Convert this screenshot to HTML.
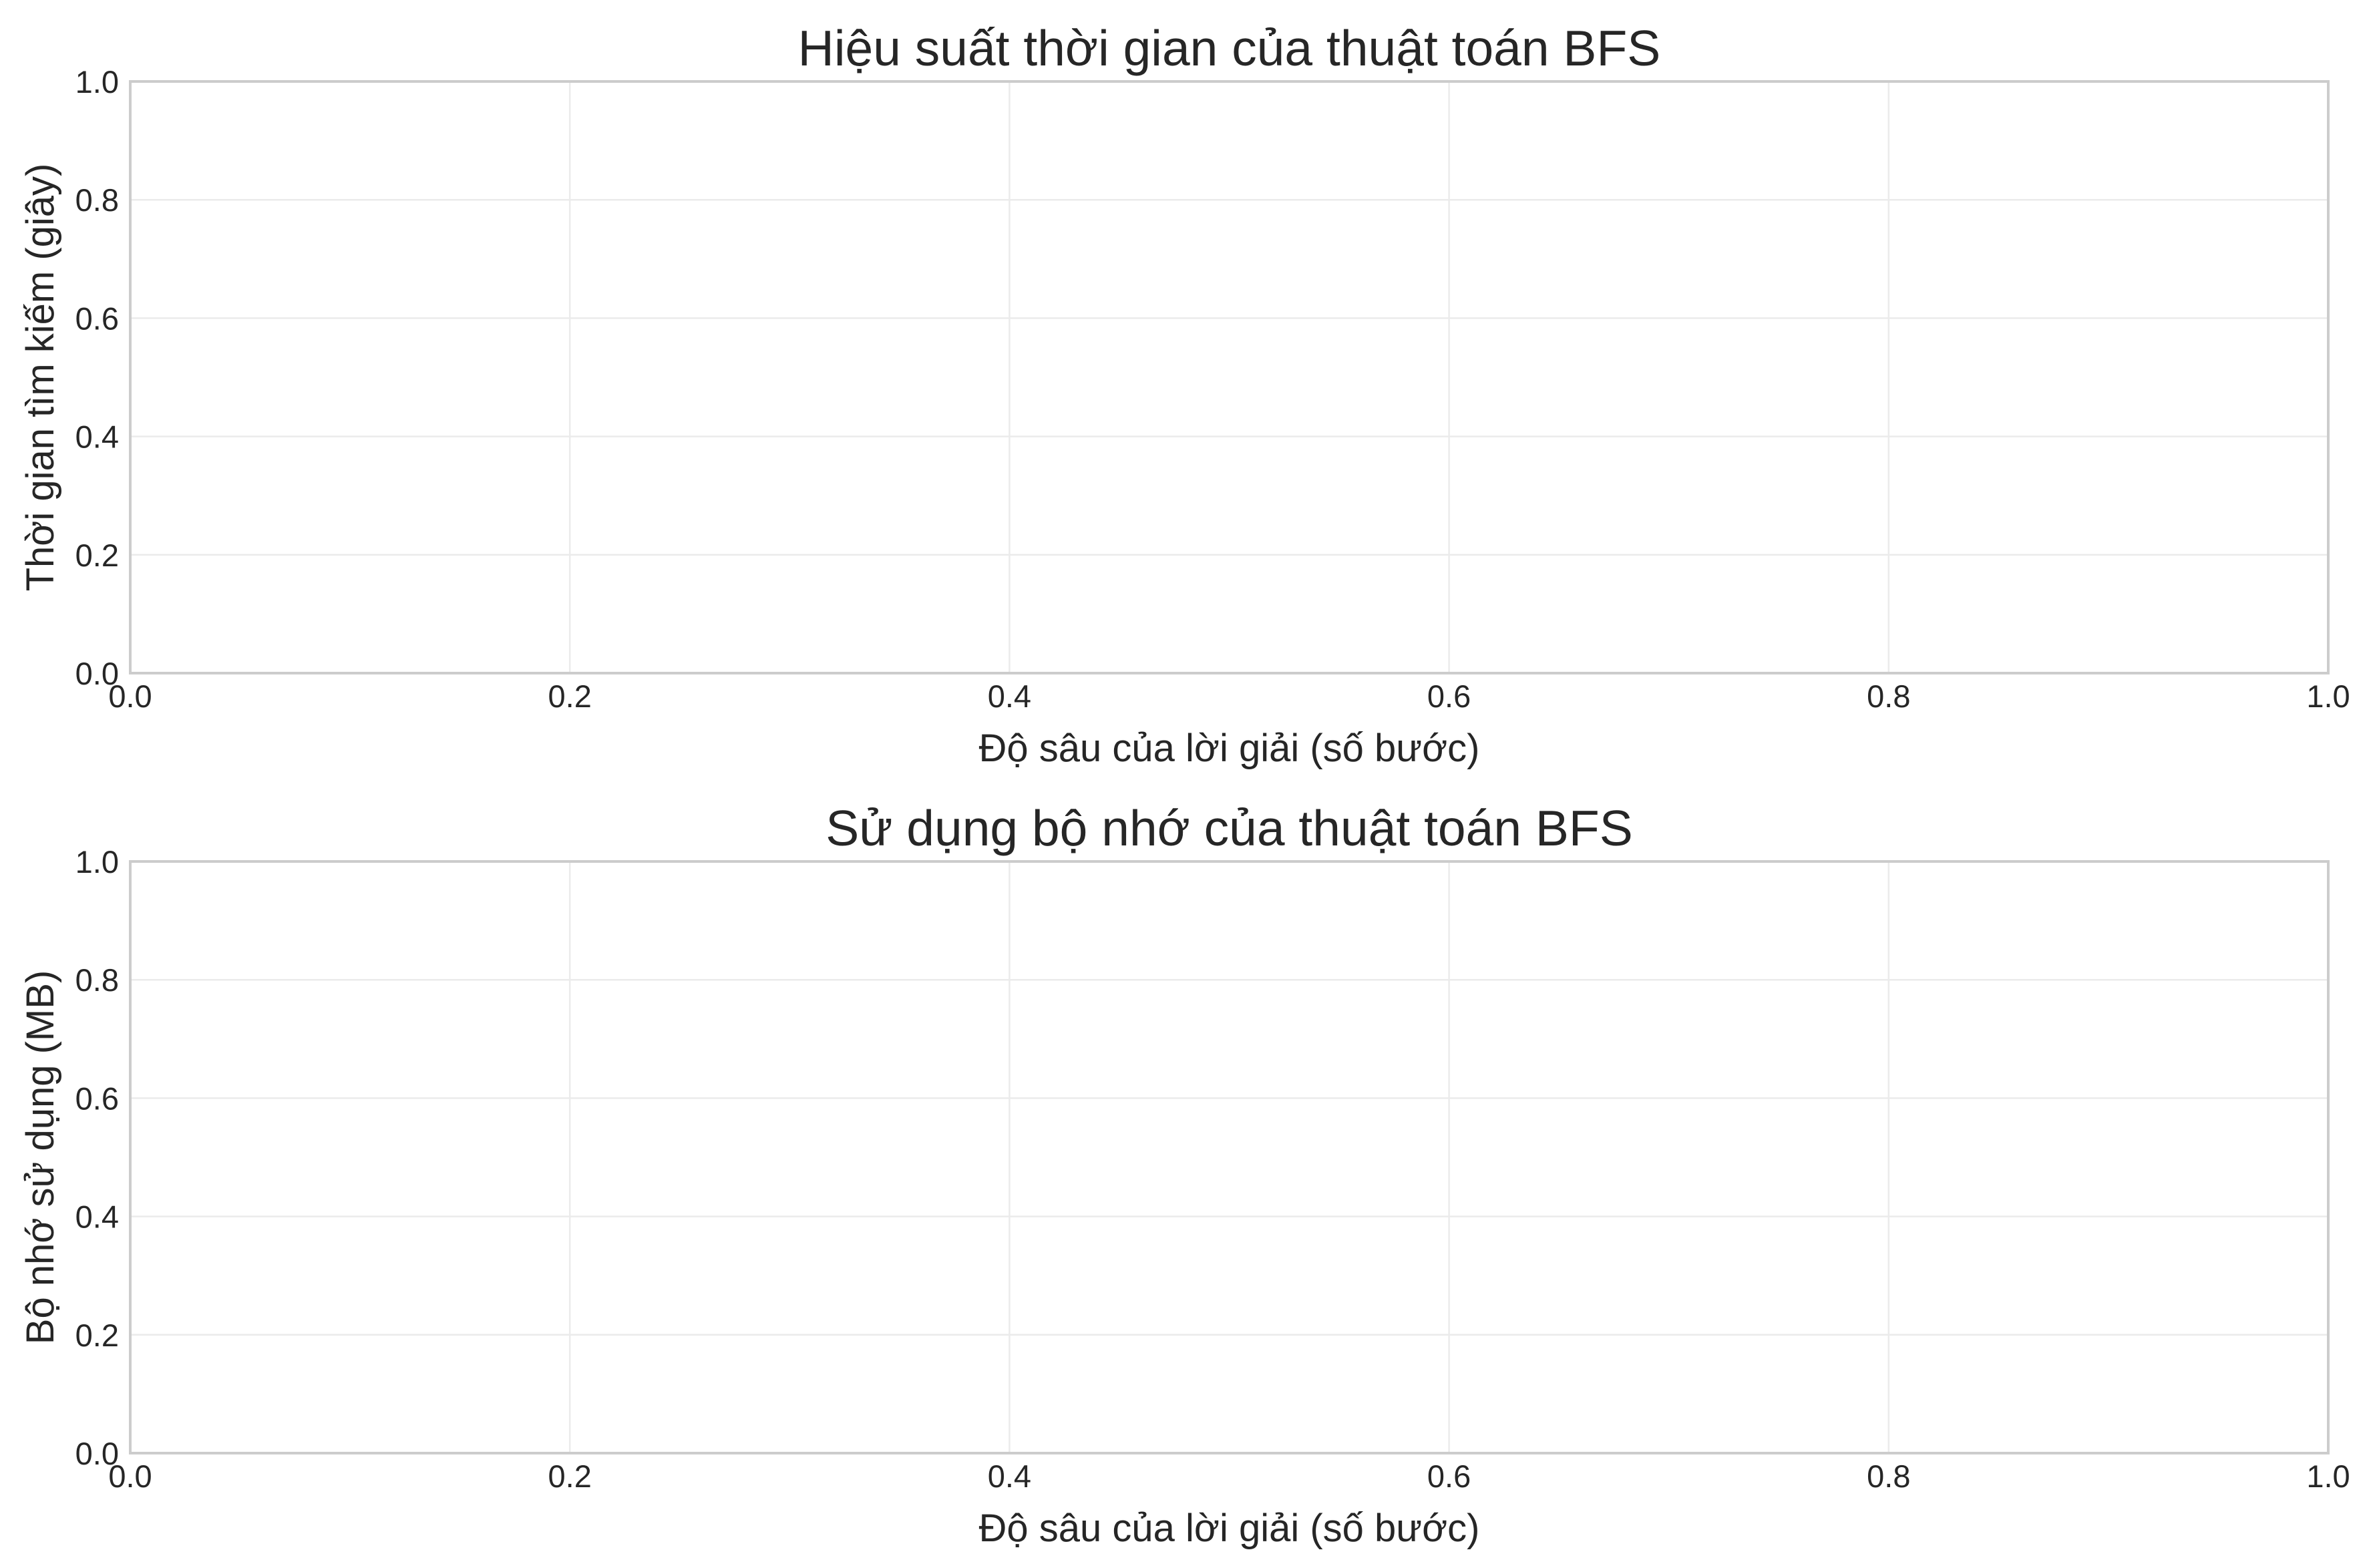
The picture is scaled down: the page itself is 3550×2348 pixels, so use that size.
<!DOCTYPE html>
<html><head><meta charset="utf-8"><style>
html,body{margin:0;padding:0;background:#fff;}
svg{display:block;}
text{font-family:"Liberation Sans",Arial,sans-serif;fill:#262626;}
</style></head><body>
<svg id="chart" width="3550" height="2348" viewBox="0 0 3550 2348" xmlns="http://www.w3.org/2000/svg"></svg>
<script>
const xTicks = [0.0, 0.2, 0.4, 0.6, 0.8, 1.0];
const yTicks = [0.0, 0.2, 0.4, 0.6, 0.8, 1.0];
const timeDepths = [];
const timeValues = [];
const memoryDepths = [];
const memoryValues = [];
const panels = [
  {key:'time', title:'Hiệu suất thời gian của thuật toán BFS', ylabel:'Thời gian tìm kiếm (giây)', top:122, bottom:1008, xs:timeDepths, ys:timeValues},
  {key:'memory', title:'Sử dụng bộ nhớ của thuật toán BFS', ylabel:'Bộ nhớ sử dụng (MB)', top:1290, bottom:2176, xs:memoryDepths, ys:memoryValues}
];
const L = 195, R = 3486;
const NS = 'http://www.w3.org/2000/svg';
const svg = document.getElementById('chart');
function mk(tag, attrs, parent){
  const e = document.createElementNS(NS, tag);
  for (const k in attrs) e.setAttribute(k, attrs[k]);
  (parent||svg).appendChild(e);
  return e;
}
panels.forEach(p => {
  const g = mk('g', {});
  
  
  const xs = v => L + (v - 0) / (1 - 0) * (R - L);
  const ys = v => p.bottom - (v - 0) / (1 - 0) * (p.bottom - p.top);
  xTicks.forEach(t => {
    const ln = mk('line', {x1:xs(t), x2:xs(t), y1:p.top, y2:p.bottom, stroke:'#ebebeb', 'stroke-width':2.5}, g);
    
    
    const tx = mk('text', {x:xs(t), y:p.bottom + 51, 'font-size':47, 'text-anchor':'middle'}, g);
    tx.textContent = t.toFixed(1);
    
    
  });
  yTicks.forEach(t => {
    const ln = mk('line', {x1:L, x2:R, y1:ys(t), y2:ys(t), stroke:'#ebebeb', 'stroke-width':2.5}, g);
    
    
    const tx = mk('text', {x:178, y:ys(t) + 17, 'font-size':47, 'text-anchor':'end'}, g);
    tx.textContent = t.toFixed(1);
    
    
  });
  const fr = mk('rect', {x:L, y:p.top, width:R-L, height:p.bottom-p.top, fill:'none', stroke:'#cccccc', 'stroke-width':4}, g);
  
  
  if (p.xs.length) {
    const pl = mk('polyline', {points:p.xs.map((x,i)=>xs(x)+','+ys(p.ys[i])).join(' '), fill:'none', stroke:'#1f77b4', 'stroke-width':5}, g);
    
    
  }
  const ti = mk('text', {x:(L+R)/2, y:p.top - 24, 'font-size':75, 'text-anchor':'middle'}, g);
  ti.textContent = p.title;
  
  
  const xl = mk('text', {x:(L+R)/2, y:p.bottom + 132, 'font-size':58, 'text-anchor':'middle'}, g);
  xl.textContent = 'Độ sâu của lời giải (số bước)';
  
  
  const cy = (p.top + p.bottom) / 2;
  const yl = mk('text', {x:0, y:0, 'font-size':58, 'text-anchor':'middle', transform:'translate(80,'+cy+') rotate(-90)'}, g);
  yl.textContent = p.ylabel;
  
  
});
</script>
</body></html>
